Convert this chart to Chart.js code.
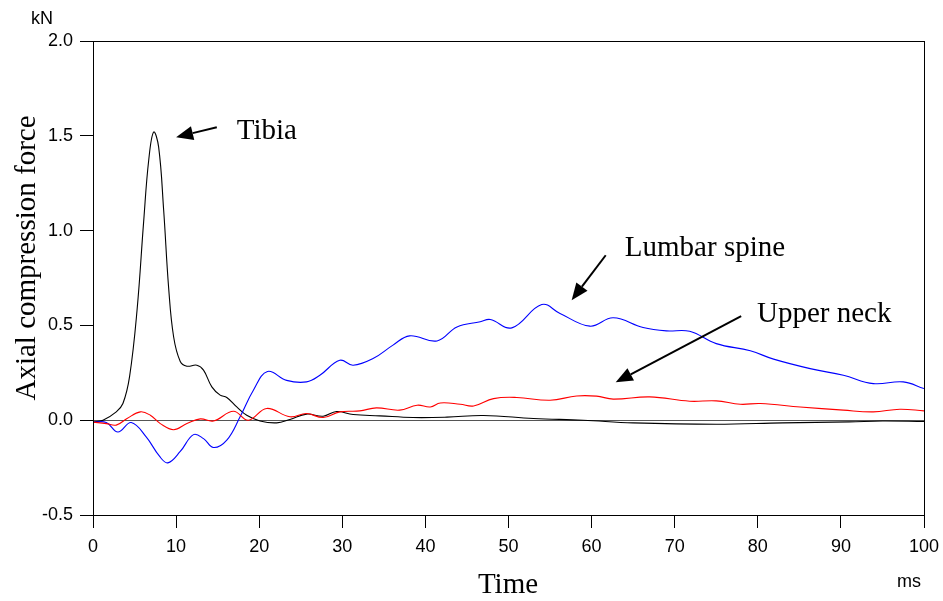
<!DOCTYPE html>
<html>
<head>
<meta charset="utf-8">
<script src="https://cdn.jsdelivr.net/npm/chart.js@4"></script>
<style>
html, body { margin: 0; padding: 0; background: #fff; }
#wrap { width: 943px; height: 601px; }
</style>
</head>
<body>
<div id="wrap"><canvas id="forceChart" width="943" height="601"></canvas></div>
<script>
// -----------------------------
// Data (time in ms, force in kN)
// -----------------------------
const tibiaT = [0, 1.2, 2.8, 3.6, 4.4, 5.3, 6.1, 6.7, 7.3, 7.9, 8.5, 9.1, 9.7, 10.5, 11.3, 12.5, 13.3, 14.3, 15.3, 16.1, 17.3, 18.5, 20.1, 22.1, 23.7, 25.7, 27.7, 29.3, 31.3, 34.5, 38.5, 42.6, 47, 53, 59, 65, 75, 83, 91, 95, 100];
const tibiaF = [-0.01, 0, 0.044, 0.088, 0.23, 0.58, 1.05, 1.37, 1.52, 1.44, 1.11, 0.70, 0.44, 0.31, 0.285, 0.29, 0.264, 0.176, 0.132, 0.12, 0.07, 0.026, -0.004, -0.014, 0.004, 0.032, 0.021, 0.046, 0.03, 0.023, 0.014, 0.016, 0.025, 0.009, 0, -0.014, -0.021, -0.014, -0.009, -0.004, -0.007];

const lumbarT = [0, 1.6, 3.0, 4.6, 6.4, 8.0, 9.0, 10.5, 12.1, 13.3, 14.5, 16.1, 17.7, 19.3, 21.0, 23.3, 25.7, 27.3, 29.7, 31.3, 33.7, 36.1, 38.1, 41.4, 43.8, 46.6, 47.8, 50.4, 54, 56.2, 59.8, 62.6, 66.2, 69, 71.8, 75, 79.1, 81.9, 86.3, 90.3, 93.9, 97.5, 100];
const lumbarF = [-0.01, -0.012, -0.062, -0.012, -0.088, -0.19, -0.225, -0.165, -0.076, -0.097, -0.144, -0.105, 0.018, 0.158, 0.257, 0.21, 0.202, 0.237, 0.316, 0.29, 0.325, 0.396, 0.445, 0.418, 0.492, 0.519, 0.531, 0.487, 0.61, 0.563, 0.496, 0.54, 0.489, 0.471, 0.469, 0.404, 0.366, 0.322, 0.272, 0.237, 0.193, 0.202, 0.167];

const neckT = [0, 1.6, 2.8, 4.1, 5.7, 6.9, 8.1, 9.7, 11.3, 12.9, 14.5, 16.9, 18.7, 20.9, 23.7, 25.7, 27.7, 29.7, 32.1, 34.1, 36.9, 39, 40.6, 41.8, 44.2, 45.8, 48.2, 51, 55, 58.2, 60.6, 62.6, 67, 71.8, 75, 77.9, 80.3, 85.1, 90.3, 93.9, 97.1, 100];
const neckF = [-0.01, -0.018, -0.026, 0.009, 0.044, 0.026, -0.018, -0.05, -0.018, 0.007, -0.004, 0.047, 0, 0.062, 0.018, 0.035, 0.014, 0.044, 0.049, 0.065, 0.053, 0.079, 0.070, 0.091, 0.084, 0.075, 0.114, 0.12, 0.105, 0.128, 0.127, 0.111, 0.123, 0.1, 0.102, 0.084, 0.088, 0.07, 0.053, 0.044, 0.058, 0.049];

const xTicks = [0, 10, 20, 30, 40, 50, 60, 70, 80, 90, 100];
const yTicks = [-0.5, 0.0, 0.5, 1.0, 1.5, 2.0];

// labels with arrows: text anchor and arrow tail/head in data units
const notes = [
  { text: "Tibia", at: [17.3, 1.524], from: [14.9, 1.545], to: [10.0, 1.493] },
  { text: "Lumbar spine", at: [64.0, 0.907], from: [61.7, 0.87], to: [57.6, 0.633] },
  { text: "Upper neck", at: [79.9, 0.559], from: [78.0, 0.549], to: [62.9, 0.20] }
];

const toPoints = (ts, fs) => ts.map((t, i) => ({ x: t, y: fs[i] }));

const serif = "'Liberation Serif', 'Times New Roman', serif";
const sans = "'Liberation Sans', Arial, sans-serif";

// frame, titles and arrows
const decor = {
  id: "decor",
  afterDraw(chart) {
    const ctx = chart.ctx;
    const a = chart.chartArea;
    const xs = chart.scales.x, ys = chart.scales.y;
    ctx.save();
    ctx.strokeStyle = "#000";
    ctx.lineWidth = 1;
    ctx.strokeRect(a.left + 0.5, a.top + 0.5, a.right - a.left, a.bottom - a.top);

    ctx.fillStyle = "#000";
    ctx.textBaseline = "middle";
    ctx.font = "29px " + serif;
    ctx.textAlign = "center";
    ctx.fillText("Time", 508, 585);
    ctx.save();
    ctx.translate(27, 258);
    ctx.rotate(-Math.PI / 2);
    ctx.fillText("Axial compression force", 0, 0);
    ctx.restore();

    ctx.font = "18px " + sans;
    ctx.fillText("kN", 42, 19);
    ctx.fillText("ms", 909, 582);

    ctx.font = "29px " + serif;
    ctx.textAlign = "left";
    notes.forEach(n => {
      ctx.fillText(n.text, xs.getPixelForValue(n.at[0]), ys.getPixelForValue(n.at[1]));
      const x1 = xs.getPixelForValue(n.from[0]), y1 = ys.getPixelForValue(n.from[1]);
      const x2 = xs.getPixelForValue(n.to[0]), y2 = ys.getPixelForValue(n.to[1]);
      const ang = Math.atan2(y2 - y1, x2 - x1);
      const hl = 17, hw = 7;
      const bx = x2 - hl * Math.cos(ang), by = y2 - hl * Math.sin(ang);
      ctx.lineWidth = 2;
      ctx.beginPath();
      ctx.moveTo(x1, y1);
      ctx.lineTo(bx, by);
      ctx.stroke();
      ctx.beginPath();
      ctx.moveTo(x2, y2);
      ctx.lineTo(bx + hw * Math.sin(ang), by - hw * Math.cos(ang));
      ctx.lineTo(bx - hw * Math.sin(ang), by + hw * Math.cos(ang));
      ctx.closePath();
      ctx.fill();
    });
    ctx.restore();
  }
};

const lineStyle = {
  borderWidth: 1.1,
  pointRadius: 0,
  tension: 0.4,
  fill: false
};

new Chart(document.getElementById("forceChart"), {
  type: "line",
  data: {
    datasets: [
      Object.assign({ label: "Upper neck", data: toPoints(neckT, neckF), borderColor: "#ff0000" }, lineStyle),
      Object.assign({ label: "Lumbar spine", data: toPoints(lumbarT, lumbarF), borderColor: "#0000ff" }, lineStyle),
      Object.assign({ label: "Tibia", data: toPoints(tibiaT, tibiaF), borderColor: "#000000" }, lineStyle)
    ]
  },
  options: {
    responsive: false,
    animation: false,
    layout: { padding: { top: 41, right: 19, left: 0, bottom: 0 } },
    plugins: { legend: { display: false }, tooltip: { enabled: false } },
    scales: {
      x: {
        type: "linear",
        min: 0,
        max: 100,
        afterFit(scale) { scale.height = 86; scale.paddingLeft = 0; scale.paddingRight = 0; },
        afterBuildTicks(scale) { scale.ticks = xTicks.map(v => ({ value: v })); },
        border: { display: true, color: "#000", width: 1 },
        grid: { drawOnChartArea: false, tickLength: 13, tickColor: "#000" },
        ticks: { color: "#000", font: { family: sans, size: 18 }, padding: 8, maxRotation: 0 }
      },
      y: {
        min: -0.5,
        max: 2.0,
        afterFit(scale) { scale.width = 93; scale.paddingTop = 0; scale.paddingBottom = 0; },
        afterBuildTicks(scale) { scale.ticks = yTicks.map(v => ({ value: v })); },
        border: { display: true, color: "#000", width: 1 },
        grid: {
          drawOnChartArea: true,
          tickLength: 13,
          tickColor: "#000",
          color: c => (c.tick && c.tick.value === 0 ? "#555" : "rgba(0,0,0,0)")
        },
        ticks: {
          color: "#000",
          font: { family: sans, size: 18 },
          padding: 7,
          callback: v => v.toFixed(1)
        }
      }
    }
  },
  plugins: [decor]
});
</script>
</body>
</html>
